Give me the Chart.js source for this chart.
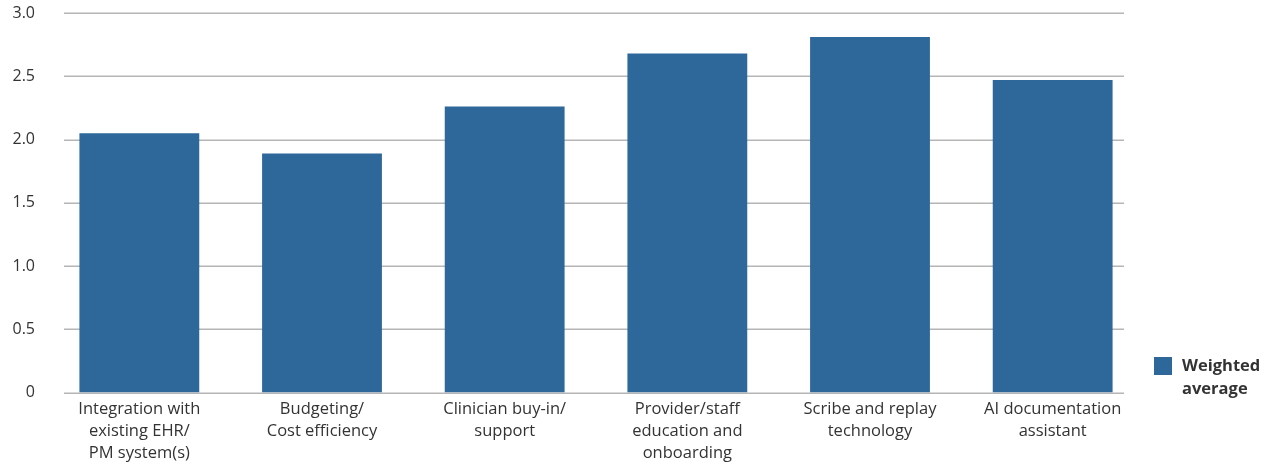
<!DOCTYPE html>
<html>
<head>
<meta charset="utf-8">
<script src="https://cdn.jsdelivr.net/npm/chart.js@4.4.1/dist/chart.umd.min.js"></script>
<style>
  html, body { margin: 0; padding: 0; background: #ffffff; }
  #wrap { width: 1273px; height: 466px; position: relative; }
</style>
</head>
<body>
<div id="wrap"><canvas id="chart"></canvas></div>
<script>
// Category labels (multi-line)
const categories = [
  ["Integration with", "existing EHR/", "PM system(s)"],
  ["Budgeting/", "Cost efficiency"],
  ["Clinician buy-in/", "support"],
  ["Provider/staff", "education and", "onboarding"],
  ["Scribe and replay", "technology"],
  ["AI documentation", "assistant"]
];
// Weighted average score per category
const weightedAverage = [2.05, 1.89, 2.26, 2.68, 2.81, 2.47];
// Y axis tick labels (0 to 3.0, step 0.5)
const yTickLabels = ["0", "0.5", "1.0", "1.5", "2.0", "2.5", "3.0"];
const seriesLabel = ["Weighted", "average"];

const FONT = "'Open Sans', Roboto, sans-serif";
const BAR_COLOR = "#2e6799";
const GRID_COLOR = "#b5b5b5";
const TEXT_COLOR = "#333333";

// Horizontal grid lines, inset slightly from the plot edges
const insetGrid = {
  id: "insetGrid",
  beforeDatasetsDraw(chart) {
    const { ctx, chartArea, scales } = chart;
    const y = scales.y;
    ctx.save();
    ctx.strokeStyle = GRID_COLOR;
    ctx.lineWidth = 1.5;
    y.ticks.forEach(t => {
      const py = Math.round(y.getPixelForValue(t.value)) + 0.25;
      ctx.beginPath();
      ctx.moveTo(chartArea.left + 16, py);
      ctx.lineTo(chartArea.right - 20, py);
      ctx.stroke();
    });
    ctx.restore();
  }
};

// Legend on the right, with a wrapped label
const sideLegend = {
  id: "sideLegend",
  afterDraw(chart) {
    const { ctx, chartArea } = chart;
    const ds = chart.data.datasets[0];
    const x0 = chartArea.right + 10;
    const yc = 366;
    ctx.save();
    ctx.fillStyle = ds.backgroundColor;
    ctx.fillRect(x0, yc - 9, 18, 18);
    ctx.fillStyle = TEXT_COLOR;
    ctx.font = "bold 16.5px " + FONT;
    ctx.textBaseline = "middle";
    ctx.textAlign = "left";
    seriesLabel.forEach((line, i) => ctx.fillText(line, x0 + 28, yc + i * 23));
    ctx.restore();
  }
};

new Chart(document.getElementById("chart"), {
  type: "bar",
  data: {
    labels: categories,
    datasets: [{
      label: seriesLabel.join(" "),
      data: weightedAverage,
      backgroundColor: BAR_COLOR,
      borderWidth: 0,
      categoryPercentage: 1.0,
      barPercentage: 0.656
    }]
  },
  options: {
    responsive: true,
    maintainAspectRatio: false,
    animation: false,
    layout: { padding: { left: 0, right: 129, top: 13, bottom: 0 } },
    plugins: {
      legend: { display: false },
      tooltip: { enabled: false }
    },
    scales: {
      x: {
        grid: { display: false, drawTicks: false },
        border: { display: false },
        ticks: {
          color: TEXT_COLOR,
          font: { family: FONT, size: 16.5, lineHeight: 1.333 },
          padding: 6,
          maxRotation: 0,
          autoSkip: false
        },
        afterFit(scale) { scale.height = 73.5; scale.paddingLeft = 0; scale.paddingRight = 0; }
      },
      y: {
        min: 0,
        max: 3,
        grid: { display: false, drawTicks: false },
        border: { display: false },
        ticks: {
          stepSize: 0.5,
          color: TEXT_COLOR,
          padding: 13,
          font: { family: FONT, size: 16 },
          callback: (v, i) => yTickLabels[i]
        },
        afterFit(scale) { scale.width = 48; scale.paddingTop = 0; scale.paddingBottom = 0; }
      }
    }
  },
  plugins: [insetGrid, sideLegend]
});
</script>
</body>
</html>
